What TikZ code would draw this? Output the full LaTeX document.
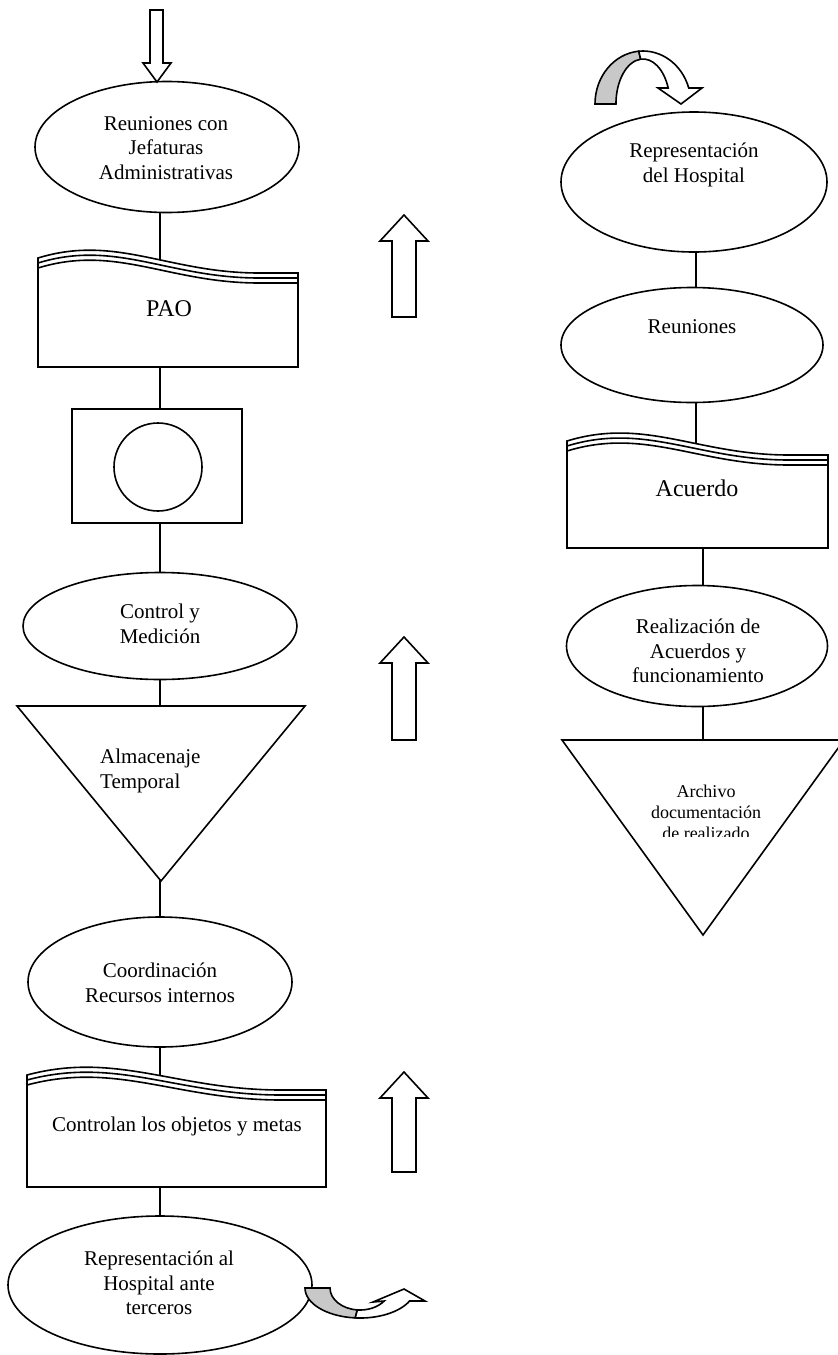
\documentclass[tikz,border=0pt]{standalone}
\usepackage{fontspec}
\setmainfont{Liberation Serif}
\usetikzlibrary{shapes.geometric}
\definecolor{bandgray}{RGB}{200,200,200}
\tikzset{
  ln/.style={line width=1.6pt, line join=miter},
  conn/.style={line width=1.6pt},
  ell/.style={ln, draw, fill=white, ellipse, inner sep=0pt, outer sep=0pt},
  txt/.style={align=center, inner sep=0pt, font=\fontsize{21}{24.5}\selectfont},
  bigtxt/.style={inner sep=0pt, font=\fontsize{24}{28}\selectfont},
  smalltxt/.style={align=center, inner sep=0pt, font=\fontsize{18}{21}\selectfont},
}
% L R yL yR bottom
\newcommand\mydocbox[5]{%
  \draw[ln, fill=white] ({#1},{#3}) .. controls ({#1+0.3*(#2-#1)},{#3-24}) and ({#1+0.5*(#2-#1)},{#4}) .. ({#1+0.85*(#2-#1)},{#4}) -- ({#2},{#4}) -- ({#2},{#5}) -- ({#1},{#5}) -- cycle;
  \draw[ln] ({#1},{#3+5}) .. controls ({#1+0.3*(#2-#1)},{#3+5-24}) and ({#1+0.5*(#2-#1)},{#4+5}) .. ({#1+0.85*(#2-#1)},{#4+5}) -- ({#2},{#4+5});
  \draw[ln] ({#1},{#3+10}) .. controls ({#1+0.3*(#2-#1)},{#3+10-24}) and ({#1+0.5*(#2-#1)},{#4+10}) .. ({#1+0.85*(#2-#1)},{#4+10}) -- ({#2},{#4+10});
}
% tip y, bottom y
\newcommand\myuparrow[2]{%
  \draw[ln, fill=white] (392,{#2}) -- (392,{#1+26}) -- (380,{#1+26}) -- (404,{#1}) -- (428,{#1+26}) -- (416,{#1+26}) -- (416,{#2}) -- cycle;
}
\begin{document}
\begin{tikzpicture}[x=1pt,y=-1pt]
\useasboundingbox (0,0) rectangle (838,1355);
\fill[white] (0,0) rectangle (838,1355);

% spines and shape centres
\coordinate (sL) at (160,0);
\coordinate (sR1) at (696,0);
\coordinate (sR2) at (703,0);
\coordinate (pao) at (168,310);
\coordinate (ctl) at (177,1130);
\coordinate (acu) at (697,495);
\coordinate (tri1) at (161,760);
\coordinate (tri2) at (703,800);
\coordinate (e1) at (167,147);
\coordinate (e2) at (160,626);
\coordinate (e3) at (160,982);
\coordinate (e4) at (160,1285);
\coordinate (sqc) at (157,466);
\coordinate (r1) at (694,182);
\coordinate (r2) at (692,345);
\coordinate (r4) at (697,646);

% connectors (behind the shapes)
\draw[conn] (sL |- e1) -- (sL |- pao);
\draw[conn] (sL |- pao) -- (sL |- sqc);
\draw[conn] (sL |- sqc) -- (sL |- e2);
\draw[conn] (sL |- e2) -- (sL |- tri1);
\draw[conn] (sL |- tri1) -- (sL |- e3);
\draw[conn] (sL |- e3) -- (sL |- ctl);
\draw[conn] (sL |- ctl) -- (sL |- e4);
\draw[conn] (sR1 |- r1) -- (sR1 |- r2);
\draw[conn] (sR1 |- r2) -- (sR1 |- acu);
\draw[conn] (sR2 |- acu) -- (sR2 |- r4);
\draw[conn] (sR2 |- r4) -- (sR2 |- tri2);

% left column shapes
\node[ell, minimum width=264pt, minimum height=131pt] (E1) at (e1) {};
\mydocbox{38}{298}{258}{273}{367}
\node[ln, draw, fill=white, rectangle, inner sep=0pt, minimum width=170pt, minimum height=114pt] (SQ) at (sqc) {};
\node[ln, draw, circle, inner sep=0pt, minimum size=88pt] (CI) at (158,467) {};
\node[ell, minimum width=274pt, minimum height=107pt] (E2) at (e2) {};
\draw[ln, fill=white] (17,706) -- (305,706) -- (161,881) -- cycle;
\node[ell, minimum width=264pt, minimum height=130pt] (E3) at (e3) {};
\mydocbox{27}{326}{1075}{1090}{1187}
\node[ell, minimum width=304pt, minimum height=138pt] (E4) at (e4) {};

% right column shapes
\node[ell, minimum width=266pt, minimum height=140pt] (R1) at (r1) {};
\node[ell, minimum width=262pt, minimum height=115pt] (R2) at (r2) {};
\mydocbox{567}{828}{441}{455}{548}
\node[ell, minimum width=261pt, minimum height=121pt] (R4) at (r4) {};
\draw[ln, fill=white] (562,740) -- (844,740) -- (703,935) -- cycle;

% block arrows
\draw[ln, fill=white] (150,10) -- (163,10) -- (163,63) -- (171,63) -- (157,82) -- (143,63) -- (150,63) -- cycle;
\myuparrow{215}{317}
\myuparrow{637}{740}
\myuparrow{1072}{1172}

% curved arrow, top right
\draw[ln, fill=bandgray] (595,104) arc[start angle=180, end angle=265, x radius=48, y radius=53]
  -- (640.6,59.2) arc[start angle=265, end angle=180, x radius=27, y radius=45] -- cycle;
\draw[ln, fill=white] (638.8,51.2) arc[start angle=265, end angle=342.4, x radius=48, y radius=53]
  -- (702,88) -- (681,104) -- (658,88) -- (668.2,88)
  arc[start angle=339.2, end angle=265, x radius=27, y radius=45] -- cycle;

% curved arrow, bottom
\draw[ln, fill=bandgray] (305,1288) arc[start angle=180, end angle=95, x radius=55, y radius=30]
  -- (357.4,1309.9) arc[start angle=95, end angle=180, x radius=30, y radius=22] -- cycle;
\draw[ln, fill=white] (355.2,1317.9) arc[start angle=95, end angle=25.7, x radius=55, y radius=30]
  -- (425,1301) -- (404,1289) -- (373,1302) -- (384.2,1301)
  arc[start angle=36.2, end angle=95, x radius=30, y radius=22] -- cycle;

% texts
\node[txt] (t1) at (166,148) {Reuniones con\\Jefaturas\\Administrativas};
\node[bigtxt] (tpao) at (169,309) {PAO};
\node[txt] (t2) at (160,624) {Control y\\Medición};
\node[txt, align=left, anchor=west] (t3) at (100,771) {Almacenaje\\Temporal};
\node[txt] (t4) at (160,983) {Coordinación\\Recursos internos};
\node[txt] (t5) at (177,1126) {Controlan los objetos y metas};
\node[txt] (t6) at (159,1283) {Representación al\\Hospital ante\\terceros};
\node[txt] (u1) at (694,165) {Representación\\del Hospital};
\node[txt] (u2) at (692,327) {Reuniones};
\node[bigtxt] (u3) at (697,488) {Acuerdo};
\node[txt] (u4) at (698,651) {Realización de\\Acuerdos y\\funcionamiento};
\begin{scope}
  \clip (590,760) rectangle (820,836);
  \node[smalltxt] (u5) at (706,812) {Archivo\\documentación\\de realizado};
\end{scope}
\end{tikzpicture}
\end{document}
